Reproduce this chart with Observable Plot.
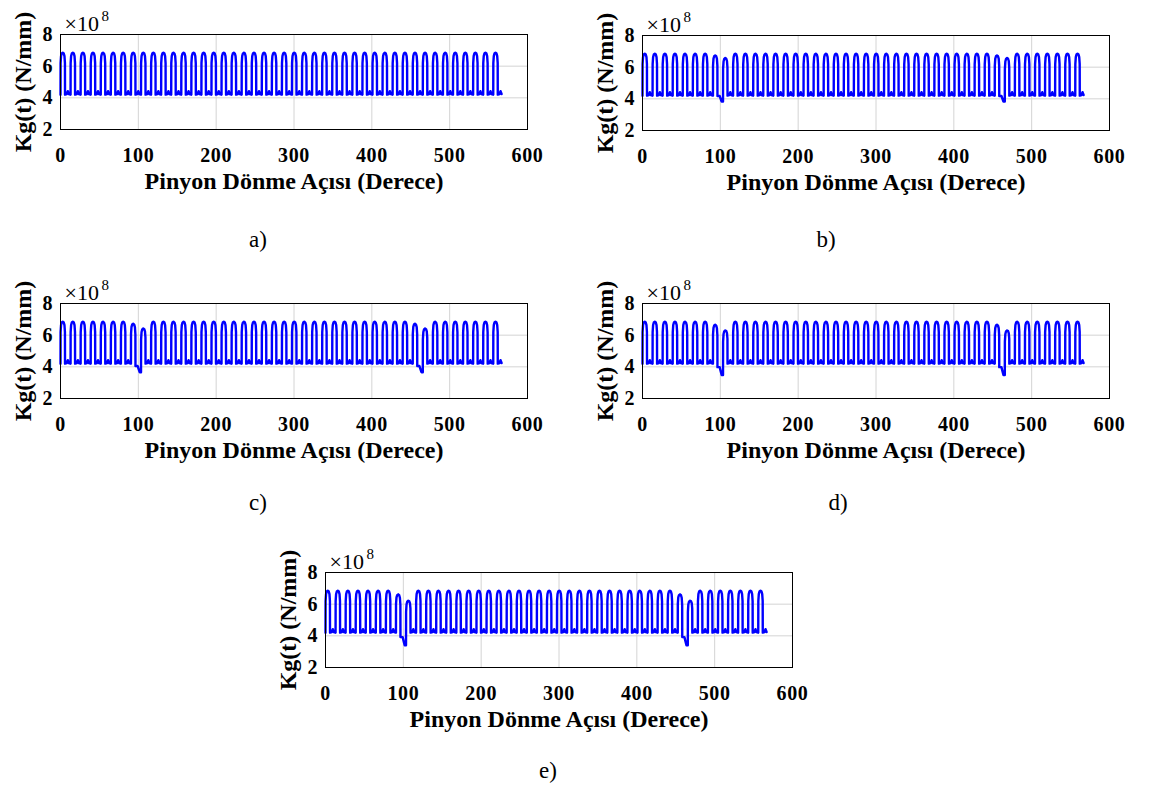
<!DOCTYPE html>
<html><head><meta charset="utf-8">
<script src="https://cdn.jsdelivr.net/npm/d3@7"></script>
<script src="https://cdn.jsdelivr.net/npm/@observablehq/plot@0.6"></script>
<style>
html,body{margin:0;padding:0;background:#fff;}
#root{position:relative;width:1156px;height:790px;overflow:hidden;background:#fff;}
.panel{position:absolute;}
.cap{position:absolute;font-family:"Liberation Serif","Times New Roman",serif;font-size:23px;color:#000;transform:translate(-50%,-50%);white-space:nowrap;}
</style></head><body><div id="root"></div>
<script>
// ---- data (stiffness in units of 1e8 N/mm, angle in degrees) ----
const panelLabels = ["a)", "b)", "c)", "d)", "e)"];
const xTicks = [0, 100, 200, 300, 400, 500, 600];
const yTicks = [2, 4, 6, 8];
const xTitle = "Pinyon Dönme Açısı (Derece)";
const yTitle = "Kg(t) (N/mm)";
const toothPeriod = 12.93;      // spacing of the double-contact pulses
const toothCount = 44;          // pulses drawn
const endAngle = 567;           // last angle of the record
const pairPeak = 6.85;          // double-contact stiffness
const singleLow = 4.2;          // single-contact stiffness
// one double-contact pulse (offset in degrees, level between base and peak)
const pulseOffsets = [0, 0.1, 0.7, 1.6, 2.9, 4.2, 5.1, 5.7, 5.8];
const pulseLevels  = [0, 0.75, 0.92, 0.98, 1, 0.98, 0.92, 0.75, 0];
// single-contact region after a pulse
const lowOffsets = [8.0, 9.36, 10.7];
const lowValues  = [4.24, 4.42, 4.24];
// cracked tooth region
const hasDefect  = [false, true, true, true, true];
const defectTeeth = [7, 35];
const peakBefore = [6.85, 6.74, 6.72, 6.66, 6.62];
const peakAfter  = [6.85, 6.58, 6.42, 6.30, 6.22];
const stepLevel  = [4.2, 4.18, 4.05, 3.98, 3.92];
const dipLevel   = [4.2, 3.83, 3.66, 3.48, 3.40];
const defectLowOffsets = [8.6, 11.2, 12.6];

function series(p) {
  const pts = [];
  const before = k => hasDefect[p] && defectTeeth.includes(k);
  const after = k => hasDefect[p] && defectTeeth.includes(k - 1);
  for (let k = 0; k < toothCount; k++) {
    const s = k * toothPeriod;
    const peak = before(k) ? peakBefore[p] : after(k) ? peakAfter[p] : pairPeak;
    const riseBase = after(k) ? dipLevel[p] : singleLow;
    const fallBase = before(k) ? stepLevel[p] : singleLow;
    pulseOffsets.forEach((o, i) => {
      const base = i < 4 ? riseBase : fallBase;
      pts.push({angle: s + o, kg: base + pulseLevels[i] * (peak - base)});
    });
    if (before(k)) {
      const vals = [stepLevel[p], dipLevel[p], dipLevel[p]];
      defectLowOffsets.forEach((o, i) => pts.push({angle: s + o, kg: vals[i]}));
    } else {
      lowOffsets.forEach((o, i) => { if (s + o <= endAngle) pts.push({angle: s + o, kg: lowValues[i]}); });
    }
  }
  return pts;
}

// ---- layout ----
const panelLeft = [0, 582, 0, 582, 265];
const panelTop  = [0, 1, 269, 269, 538];
const capX = [258, 826, 258, 838, 548];
const capY = [240, 240, 503, 503, 771];

const root = document.getElementById("root");
panelLabels.forEach((lab, p) => {
  const chart = Plot.plot({
    width: 560, height: 200,
    marginLeft: 60, marginRight: 33, marginTop: 34, marginBottom: 71,
    style: {fontFamily: '"Liberation Serif","Times New Roman",serif', fontSize: "20px", fontWeight: "bold", background: "transparent", overflow: "visible", color: "#000"},
    x: {domain: [0, 600]},
    y: {domain: [2, 8]},
    marks: [
      Plot.gridX(xTicks, {stroke: "#d4d4d4", strokeOpacity: 1}),
      Plot.gridY(yTicks, {stroke: "#d4d4d4", strokeOpacity: 1}),
      Plot.line(series(p), {x: "angle", y: "kg", stroke: "#0000ff", strokeWidth: 2.4}),
      Plot.frame({stroke: "#000", strokeWidth: 1}),
      Plot.axisX(xTicks, {tickSize: 0, tickPadding: 18, label: null, fontWeight: "bold"}),
      Plot.axisY(yTicks, {tickSize: 0, tickPadding: 8, label: null, fontWeight: "bold"}),
      Plot.text([xTitle], {text: d => d, frameAnchor: "bottom", dy: 52, fontSize: 24, fontWeight: "bold", textAnchor: "middle", lineAnchor: "middle", ariaLabel: "xtitle"}),
      Plot.text([yTitle], {text: d => d, frameAnchor: "left", dx: -37, rotate: -90, fontSize: 24, fontWeight: "bold", textAnchor: "middle", lineAnchor: "middle"}),
      Plot.text(["×10"], {text: d => d, frameAnchor: "top-left", dx: 4, dy: -4, textAnchor: "start", lineAnchor: "bottom", fontSize: 22, fontWeight: "normal"}),
      Plot.text(["8"], {text: d => d, frameAnchor: "top-left", dx: 41, dy: -14, textAnchor: "start", lineAnchor: "bottom", fontSize: 15, fontWeight: "normal"})
    ]
  });
  d3.select(chart).selectAll('g[aria-label="xtitle"] text').attr("letter-spacing", "0.8px");
  d3.select(chart).selectAll('g[aria-label="x-axis tick label"] text').attr("letter-spacing", "0.6px");
  const holder = document.createElement("div");
  holder.className = "panel";
  holder.style.left = panelLeft[p] + "px";
  holder.style.top = panelTop[p] + "px";
  holder.appendChild(chart);
  root.appendChild(holder);
  const cap = document.createElement("div");
  cap.className = "cap";
  cap.style.left = capX[p] + "px";
  cap.style.top = capY[p] + "px";
  cap.textContent = lab;
  root.appendChild(cap);
});
</script></body></html>
